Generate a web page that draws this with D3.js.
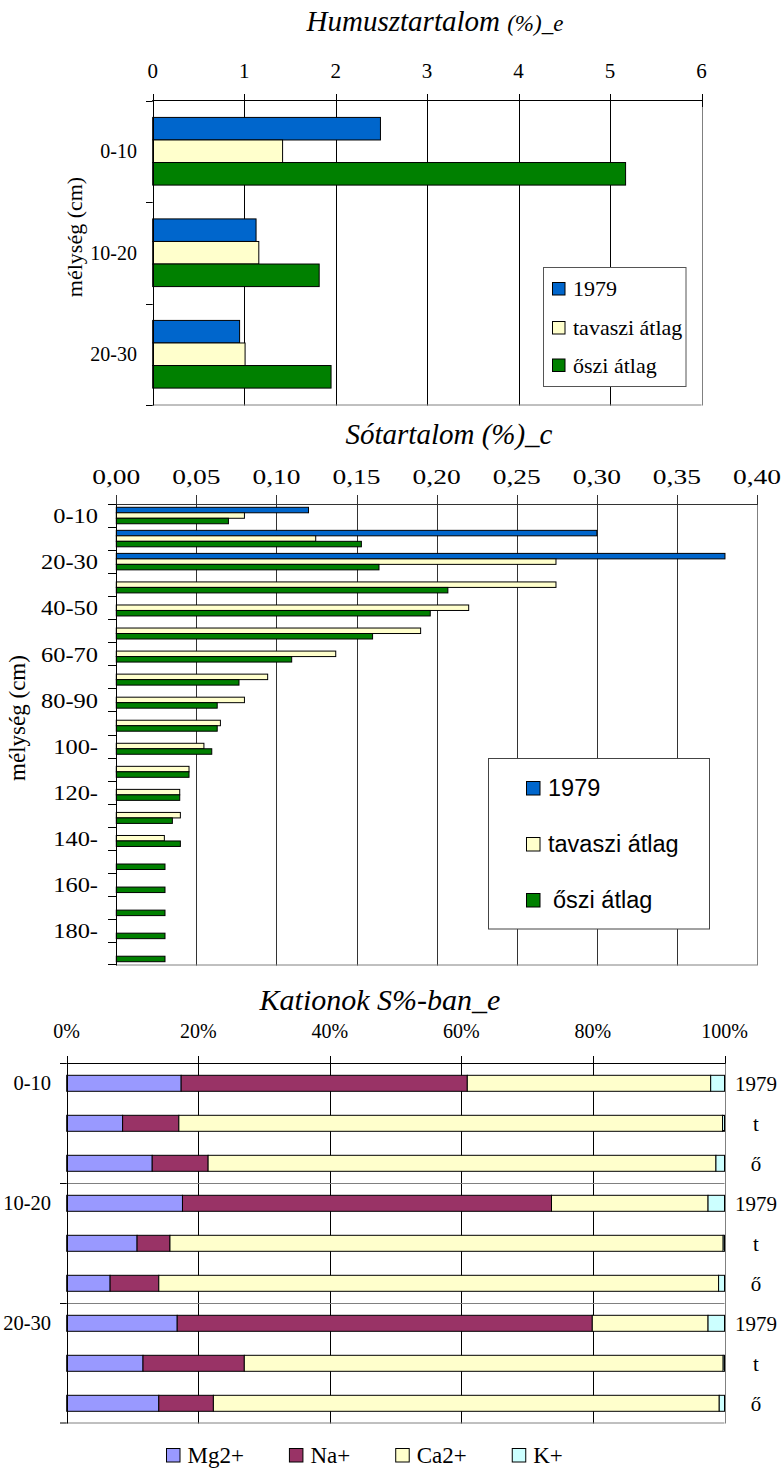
<!DOCTYPE html>
<html><head><meta charset="utf-8">
<script src="https://cdn.jsdelivr.net/npm/d3@7"></script>
<style>
body{margin:0;background:#fff}
svg{display:block}
text{font-family:"Liberation Serif","Times New Roman",serif;fill:#000}
</style>
</head><body>
<svg id="c" width="781" height="1470"></svg>
<script>
// ---------- DATA: chart 1 (Humusztartalom) ----------
const humusCategories = ["0-10", "10-20", "20-30"];
const humusSeries = ["1979", "tavaszi átlag", "őszi átlag"];
const humus1979 = [2.49, 1.13, 0.95];
const humusTavasz = [1.42, 1.16, 1.01];
const humusOsz = [5.17, 1.82, 1.95];
const humusTicks = [0, 1, 2, 3, 4, 5, 6];

// ---------- DATA: chart 2 (Sótartalom) ----------
const saltCategories = ["0-10","10-20","20-30","30-40","40-50","50-60","60-70","70-80","80-90","90-100",
  "100-110","110-120","120-130","130-140","140-150","150-160","160-170","170-180","180-190","190-200"];
const saltLabels = ["0-10","","20-30","","40-50","","60-70","","80-90","",
  "100-","","120-","","140-","","160-","","180-",""];
const salt1979 = [0.120, 0.300, 0.380, null, null, null, null, null, null, null,
  null, null, null, null, null, null, null, null, null, null];
const saltTavasz = [0.080, 0.1245, 0.2745, 0.2745, 0.220, 0.190, 0.137, 0.0945, 0.080, 0.065,
  0.0547, 0.0454, 0.0396, 0.040, 0.030, null, null, null, null, null];
const saltOsz = [0.070, 0.153, 0.164, 0.207, 0.196, 0.160, 0.1095, 0.0766, 0.063, 0.063,
  0.0596, 0.0454, 0.0396, 0.035, 0.040, 0.0304, 0.0304, 0.0304, 0.0304, 0.0304];
const saltTicks = [0, 0.05, 0.10, 0.15, 0.20, 0.25, 0.30, 0.35, 0.40];

// ---------- DATA: chart 3 (Kationok S%-ban) ----------
const cationGroups = ["0-10", "10-20", "20-30"];
const cationRows = ["1979", "t", "ő"];
const cationKeys = ["Mg2+", "Na+", "Ca2+", "K+"];
const cationMg = [17.4, 8.5, 13.0, 17.6, 10.7, 6.6, 16.8, 11.6, 14.0];
const cationNa = [43.5, 8.55, 8.5, 56.1, 5.0, 7.4, 63.1, 15.4, 8.3];
const cationCa = [37.0, 82.65, 77.2, 23.8, 84.1, 85.1, 17.6, 72.8, 76.9];
const cationK  = [2.1, 0.3, 1.3, 2.5, 0.2, 0.9, 2.5, 0.2, 0.8];
const cationTicks = [0, 0.2, 0.4, 0.6, 0.8, 1.0];

// ---------- STYLE ----------
const seriesColors = ["#0066CC", "#FFFFCC", "#008000"];
const cationColors = ["#9999FF", "#993366", "#FFFFCC", "#CCFFFF"];
const GRAY = "#808080";

const svg = d3.select("#c");
const px = v => Math.round(v) + 0.5;
function line(g, x1, y1, x2, y2, color, w) {
  g.append("line").attr("x1", x1).attr("y1", y1).attr("x2", x2).attr("y2", y2)
    .attr("stroke", color).attr("stroke-width", w || 1);
}

// =============== CHART 1 ===============
{
  const g = svg.append("g");
  const x = d3.scaleLinear().domain([0, 6]).range([152.7, 701.5]);
  const y = d3.scaleBand().domain(humusCategories).range([100.5, 405]);
  const sub = d3.scaleBand().domain(humusSeries).range([0, y.bandwidth()]).paddingInner(0).paddingOuter(0.75);
  const vals = [humus1979, humusTavasz, humusOsz];
  const top = 100.5, bottom = 405.5;

  // title
  const t = g.append("text").attr("x", 435).attr("y", 31).attr("text-anchor", "middle")
    .style("font-style", "italic").style("font-size", "29px");
  t.append("tspan").text("Humusztartalom ");
  t.append("tspan").style("font-size", "23px").text("(%)_e");

  // gridlines
  humusTicks.slice(1, -1).forEach(v => line(g, px(x(v)), top, px(x(v)), bottom, "#000"));
  // bars
  humusSeries.forEach((s, i) => {
    g.selectAll(null).data(humusCategories).enter().append("rect")
      .attr("x", x(0)).attr("y", c => y(c) + sub(s))
      .attr("width", (c, j) => x(vals[i][j]) - x(0)).attr("height", sub.bandwidth())
      .attr("fill", seriesColors[i]).attr("stroke", "#000").attr("stroke-width", 1);
  });
  // borders
  line(g, px(x(6)), top, px(x(6)), bottom, GRAY);
  line(g, x(0), bottom - 0.5, x(6), bottom - 0.5, GRAY);
  line(g, x(0) - 0.5, top, x(6) + 1, top, "#000");
  line(g, px(x(0)), top, px(x(0)), bottom, "#000");
  // top ticks + labels
  humusTicks.forEach(v => {
    line(g, px(x(v)), 94, px(x(v)), 107, "#000");
    g.append("text").attr("x", x(v)).attr("y", 78).attr("text-anchor", "middle")
      .style("font-size", "21px").text(d3.format("d")(v));
  });
  // left ticks
  humusCategories.concat(["__end"]).forEach((c, i) => {
    const yy = i < humusCategories.length ? y(c) : y.range()[1];
    line(g, 146, px(yy), x(0), px(yy), "#000");
  });
  humusCategories.forEach(c => {
    g.append("text").attr("x", 137).attr("y", y(c) + y.bandwidth() / 2).attr("dy", "0.35em")
      .attr("text-anchor", "end").style("font-size", "20px").text(c);
  });
  g.append("text").attr("transform", "translate(82,237) rotate(-90)").attr("text-anchor", "middle")
    .style("font-size", "22px").text("mélység (cm)");

  // legend
  const L = g.append("g");
  L.append("rect").attr("x", 543.5).attr("y", 267.5).attr("width", 142.5).attr("height", 119)
    .attr("fill", "#fff").attr("stroke", "#555");
  humusSeries.forEach((s, i) => {
    const yy = [282, 321, 358.5][i];
    L.append("rect").attr("x", 552.5).attr("y", yy + 0.5).attr("width", 12.5).attr("height", 12.5)
      .attr("fill", seriesColors[i]).attr("stroke", "#000");
    L.append("text").attr("x", 573).attr("y", yy + 14).style("font-size", "22px").text(s);
  });
}

// =============== CHART 2 ===============
{
  const g = svg.append("g");
  const x = d3.scaleLinear().domain([0, 0.4]).range([116.3, 757]);
  const y = d3.scaleBand().domain(saltCategories).range([504, 965]);
  const sub = d3.scaleBand().domain(humusSeries).range([0, y.bandwidth()]).paddingInner(0).paddingOuter(0.6);
  const vals = [salt1979, saltTavasz, saltOsz];
  const top = 504.5, bottom = 965.5;
  const LC = "#333";

  g.append("text").attr("x", 449).attr("y", 444).attr("text-anchor", "middle")
    .style("font-style", "italic").style("font-size", "29px").text("Sótartalom (%)_c");

  saltTicks.slice(1, -1).forEach(v => line(g, px(x(v)), top, px(x(v)), bottom, LC));
  humusSeries.forEach((s, i) => {
    const idx = saltCategories.map((c, j) => j).filter(j => vals[i][j] != null);
    g.selectAll(null).data(idx).enter().append("rect")
      .attr("x", x(0)).attr("y", j => y(saltCategories[j]) + sub(s))
      .attr("width", j => x(vals[i][j]) - x(0)).attr("height", sub.bandwidth())
      .attr("fill", seriesColors[i]).attr("stroke", "#000").attr("stroke-width", 1);
  });
  line(g, px(x(0.4)), top, px(x(0.4)), bottom, GRAY);
  line(g, x(0), bottom - 0.5, x(0.4), bottom - 0.5, GRAY);
  line(g, x(0), top, x(0.4) + 1, top, LC);
  line(g, px(x(0)), top, px(x(0)), bottom, "#000");

  const fmt = v => d3.format(".2f")(v).replace(".", ",");
  saltTicks.forEach(v => {
    line(g, px(x(v)), 495, px(x(v)), top, LC);
    g.append("text").attr("transform", `translate(${x(v)},484) scale(1.25,1)`).attr("text-anchor", "middle")
      .style("font-size", "22px").text(fmt(v));
  });
  saltCategories.forEach(c => line(g, 108, px(y(c)), x(0), px(y(c)), "#000"));
  line(g, 108, px(y.range()[1]) - 1, x(0), px(y.range()[1]) - 1, "#000");
  saltCategories.forEach((c, j) => {
    if (!saltLabels[j]) return;
    g.append("text").attr("transform", `translate(98,${y(c) + y.bandwidth() / 2}) scale(1.11,1)`)
      .attr("dy", "0.35em").attr("text-anchor", "end").style("font-size", "22px").text(saltLabels[j]);
  });
  g.append("text").attr("transform", "translate(25,718) rotate(-90)").attr("text-anchor", "middle")
    .style("font-size", "23px").text("mélység (cm)");

  const L = g.append("g");
  L.append("rect").attr("x", 488.5).attr("y", 758.5).attr("width", 221).attr("height", 170.5)
    .attr("fill", "#fff").attr("stroke", "#444");
  const legTxt = ["1979", "tavaszi átlag", " őszi átlag"];
  humusSeries.forEach((s, i) => {
    const yy = [781, 837, 893][i];
    L.append("rect").attr("x", 526.5).attr("y", yy + 0.5).attr("width", 13.5).attr("height", 13.5)
      .attr("fill", seriesColors[i]).attr("stroke", "#000");
    L.append("text").attr("x", i === 2 ? 553 : 548).attr("y", yy + 14.5)
      .style("font-family", "'Liberation Sans',Arial,sans-serif").style("font-size", "23.5px").text(legTxt[i].trim());
  });
}

// =============== CHART 3 ===============
{
  const g = svg.append("g");
  const x = d3.scaleLinear().domain([0, 1]).range([66.7, 724.5]);
  const yG = d3.scaleBand().domain(cationGroups).range([1063.3, 1423.3]);
  const yR = d3.scaleBand().domain(cationRows).range([0, yG.bandwidth()]).paddingInner(0.6).paddingOuter(0.3);
  const top = 1063.5, bottom = 1423.5;

  const rows = [];
  cationGroups.forEach((gr, gi) => cationRows.forEach((r, ri) => {
    const k = gi * 3 + ri;
    rows.push({ group: gr, row: r, "Mg2+": cationMg[k], "Na+": cationNa[k], "Ca2+": cationCa[k], "K+": cationK[k] });
  }));
  const stacked = d3.stack().keys(cationKeys).offset(d3.stackOffsetExpand)(rows);

  g.append("text").attr("x", 380).attr("y", 1010).attr("text-anchor", "middle")
    .style("font-style", "italic").style("font-size", "30px").text("Kationok S%-ban_e");

  cationTicks.slice(1, -1).forEach(v => line(g, px(x(v)), top, px(x(v)), bottom, "#000"));
  cationGroups.slice(1).forEach(gr => line(g, x(0), px(yG(gr)), x(1), px(yG(gr)), GRAY));

  stacked.forEach((layer, li) => {
    g.selectAll(null).data(layer).enter().append("rect")
      .attr("x", d => x(d[0])).attr("y", d => yG(d.data.group) + yR(d.data.row))
      .attr("width", d => x(d[1]) - x(d[0])).attr("height", yR.bandwidth())
      .attr("fill", cationColors[li]).attr("stroke", "#000").attr("stroke-width", 1);
  });

  line(g, px(x(1)), top, px(x(1)), bottom, GRAY);
  line(g, x(0), bottom - 0.5, x(1), bottom - 0.5, GRAY);
  line(g, x(0), top, x(1) + 1, top, "#000");
  line(g, px(x(0)), top, px(x(0)), bottom, "#000");

  cationTicks.forEach(v => {
    line(g, px(x(v)), 1056, px(x(v)), top, "#000");
    g.append("text").attr("x", x(v)).attr("y", 1038).attr("text-anchor", "middle")
      .style("font-size", "20px").text(d3.format(".0%")(v));
  });
  cationGroups.forEach(gr => line(g, 60, px(yG(gr)), x(0), px(yG(gr)), "#000"));
  line(g, 60, bottom - 0.5, x(0), bottom - 0.5, "#000");

  cationGroups.forEach(gr => {
    g.append("text").attr("x", 51).attr("y", yG(gr) + yR(cationRows[0]) + yR.bandwidth() / 2)
      .attr("dy", "0.35em").attr("text-anchor", "end").style("font-size", "20.5px").text(gr);
    cationRows.forEach(r => {
      g.append("text").attr("x", 756).attr("y", yG(gr) + yR(r) + yR.bandwidth() / 2)
        .attr("dy", "0.35em").attr("text-anchor", "middle").style("font-size", "21px").text(r);
    });
  });

  // legend
  const L = g.append("g");
  let cx = 166;
  cationKeys.forEach((k, i) => {
    L.append("rect").attr("x", cx + 0.5).attr("y", 1448.5).attr("width", 13.5).attr("height", 13.5)
      .attr("fill", cationColors[i]).attr("stroke", "#000");
    const tx = L.append("text").attr("x", cx + 21.5).attr("y", 1463).style("font-size", "23px").text(k);
    const w = tx.node().getComputedTextLength();
    cx = cx + 21.5 + w + 45;
  });
}
</script>
</body></html>
